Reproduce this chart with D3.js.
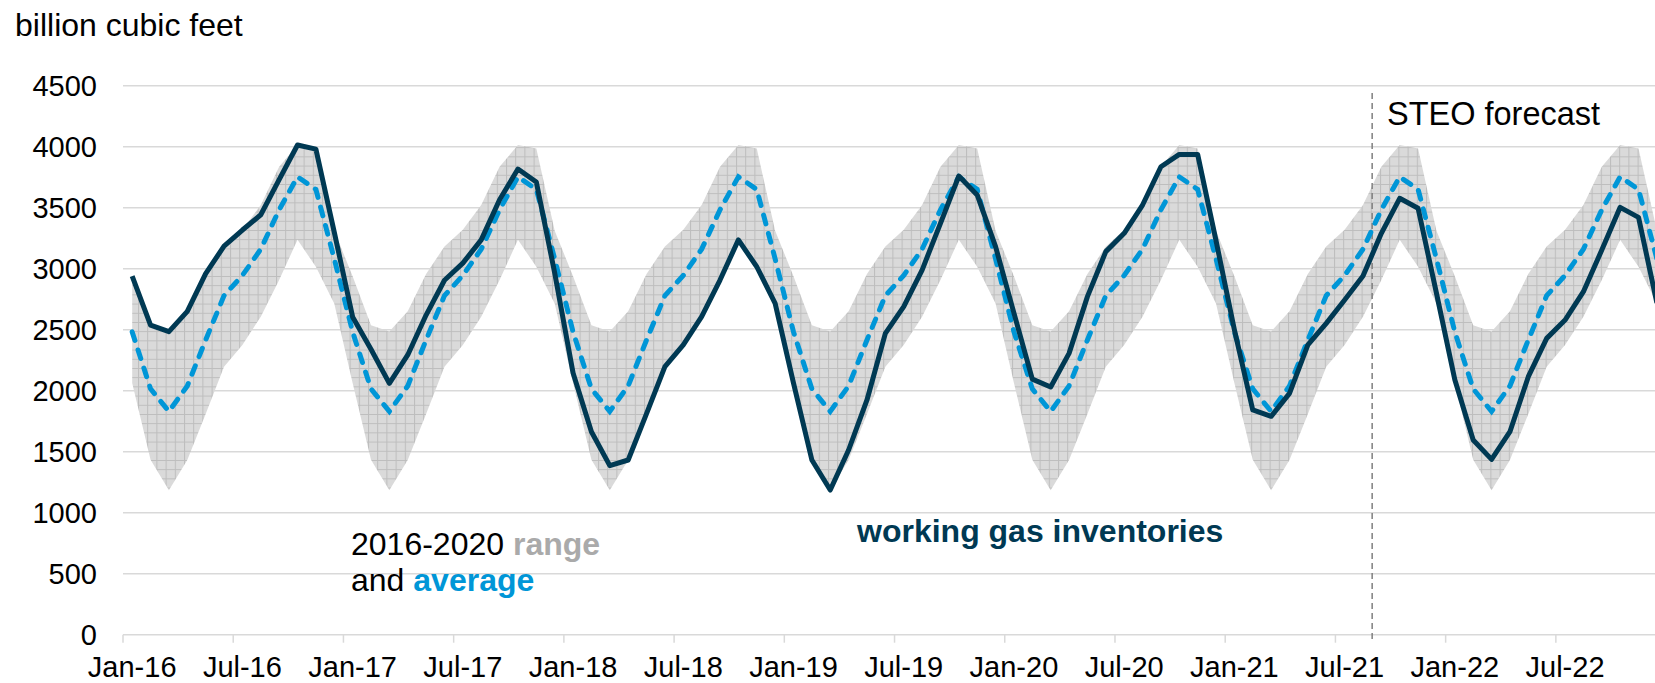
<!DOCTYPE html>
<html>
<head>
<meta charset="utf-8">
<script src="https://cdn.jsdelivr.net/npm/d3@7"></script>
<style>
  body { margin: 0; background: #fff; }
  svg { display: block; font-family: Arial, "Liberation Sans", sans-serif; }
</style>
</head>
<body>
<svg width="1655" height="683"></svg>
<script>
(function (d3) {
  'use strict'

  // monthly categories, Jan-16 .. Dec-22
  const months = d3.timeMonths(new Date(2016, 0, 1), new Date(2023, 0, 1))

  // working gas inventories (history + STEO forecast), billion cubic feet
  const inventories = [
    2940, 2538, 2484, 2650, 2960, 3185, 3317, 3442, 3730, 4014, 3980, 3300,
    2605, 2340, 2060, 2293, 2620, 2905, 3046, 3236, 3565, 3817, 3710, 2965,
    2145, 1664, 1386, 1432, 1812, 2197, 2375, 2607, 2907, 3236, 3016, 2716,
    2062, 1432, 1186, 1514, 1924, 2470, 2689, 2989, 3372, 3760, 3605, 3181,
    2636, 2095, 2030, 2306, 2771, 3140, 3290, 3522, 3836, 3937, 3937, 3230,
    2500, 1842, 1790, 1978, 2375, 2552, 2743, 2940, 3290, 3577, 3495, 2800,
    2090, 1596, 1437, 1664, 2115, 2429, 2579, 2812, 3153, 3503, 3421, 2720
  ]

  // 2016-2020 range and average by calendar month (Jan..Dec)
  const rangeLow = [2064, 1433, 1185, 1432, 1810, 2197, 2375, 2607, 2908, 3237, 3015, 2715]
  const rangeHigh = [2938, 2537, 2486, 2651, 2957, 3182, 3319, 3522, 3836, 4014, 3985, 3311]
  const average = [2482, 2015, 1830, 2039, 2416, 2779, 2945, 3160, 3483, 3753, 3650, 3081]

  const yTicks = [0, 500, 1000, 1500, 2000, 2500, 3000, 3500, 4000, 4500]
  const forecastStart = new Date(2021, 8, 1)

  const navy = '#003953'
  const blue = '#0096d7'
  const grey = '#d9d9d9'

  const svg = d3.select('svg')

  const x = d3.scaleBand().
    domain(months).
    range([123, 123 + months.length * 18.37])

  const y = d3.scaleLinear().
    domain([0, 4500]).
    range([634.7, 85.7])

  const xc = d => x(d) + x.bandwidth() / 2

  const rows = months.map((m, i) => ({
    month: m,
    value: inventories[i],
    low: rangeLow[m.getMonth()],
    high: rangeHigh[m.getMonth()],
    avg: average[m.getMonth()]
  }))

  // hatch pattern for the range
  const pat = svg.
    append('defs').
    append('pattern').
    attr('id', 'grid').
    attr('patternUnits', 'userSpaceOnUse').
    attr('width', 9.2).
    attr('height', 9.2)
  pat.append('rect').attr('width', 9.2).attr('height', 9.2).attr('fill', '#dadada')
  pat.append('path').
    attr('d', 'M0,0.5H9.2M0.5,0V9.2').
    attr('stroke', '#bdbdbd').
    attr('stroke-width', 1)

  // gridlines
  svg.append('g').
    selectAll('line').
    data(yTicks.filter(d => d > 0)).
    join('line').
    attr('x1', 123).
    attr('x2', 1655).
    attr('y1', d => y(d)).
    attr('y2', d => y(d)).
    attr('stroke', grey).
    attr('stroke-width', 1.5)

  // y labels
  svg.append('g').
    selectAll('text').
    data(yTicks).
    join('text').
    attr('x', 97).
    attr('y', d => y(d)).
    attr('dy', '0.35em').
    attr('text-anchor', 'end').
    attr('font-size', 29).
    attr('fill', '#000').
    text(d => d)

  // range area
  svg.append('path').
    datum(rows).
    attr('fill', 'url(#grid)').
    attr('d', d3.area().
      x(d => xc(d.month)).
      y0(d => y(d.low)).
      y1(d => y(d.high)))

  // x axis line + ticks
  svg.append('line').
    attr('x1', 123).
    attr('x2', 1655).
    attr('y1', y(0)).
    attr('y2', y(0)).
    attr('stroke', grey).
    attr('stroke-width', 1.5)

  const labelled = months.filter(m => m.getMonth() % 6 === 0)

  svg.append('g').
    selectAll('line').
    data(labelled).
    join('line').
    attr('x1', d => x(d)).
    attr('x2', d => x(d)).
    attr('y1', y(0)).
    attr('y2', y(0) + 8).
    attr('stroke', grey).
    attr('stroke-width', 1.5)

  svg.append('g').
    selectAll('text').
    data(labelled).
    join('text').
    attr('x', d => xc(d)).
    attr('y', 677).
    attr('text-anchor', 'middle').
    attr('font-size', 29).
    attr('fill', '#000').
    text(d3.timeFormat('%b-%y'))

  // forecast divider
  svg.append('line').
    attr('x1', x(forecastStart)).
    attr('x2', x(forecastStart)).
    attr('y1', 93).
    attr('y2', 642).
    attr('stroke', '#7f7f7f').
    attr('stroke-width', 1.5).
    attr('stroke-dasharray', '6,4')

  // average
  svg.append('path').
    datum(rows).
    attr('fill', 'none').
    attr('stroke', blue).
    attr('stroke-width', 5).
    attr('stroke-linecap', 'round').
    attr('stroke-dasharray', '9,10').
    attr('d', d3.line().x(d => xc(d.month)).y(d => y(d.avg)))

  // inventories
  svg.append('path').
    datum(rows).
    attr('fill', 'none').
    attr('stroke', navy).
    attr('stroke-width', 5).
    attr('stroke-linejoin', 'round').
    attr('d', d3.line().x(d => xc(d.month)).y(d => y(d.value)))

  // texts
  svg.append('text').
    attr('x', 15).
    attr('y', 36).
    attr('font-size', 32).
    attr('fill', '#000').
    text('billion cubic feet')

  svg.append('text').
    attr('x', 1387).
    attr('y', 125).
    attr('font-size', 32.5).
    attr('fill', '#000').
    text('STEO forecast')

  const note = svg.append('text').
    attr('x', 351).
    attr('font-size', 32).
    attr('fill', '#000')
  const l1 = note.append('tspan').attr('x', 351).attr('y', 555)
  l1.append('tspan').text('2016-2020 ')
  l1.append('tspan').attr('font-weight', 'bold').attr('fill', '#aaaaaa').text('range')
  const l2 = note.append('tspan').attr('x', 351).attr('y', 591)
  l2.append('tspan').text('and ')
  l2.append('tspan').attr('font-weight', 'bold').attr('fill', blue).text('average')

  svg.append('text').
    attr('x', 857).
    attr('y', 542).
    attr('font-size', 32).
    attr('font-weight', 'bold').
    attr('fill', navy).
    text('working gas inventories')
}(d3))
</script>
</body>
</html>
